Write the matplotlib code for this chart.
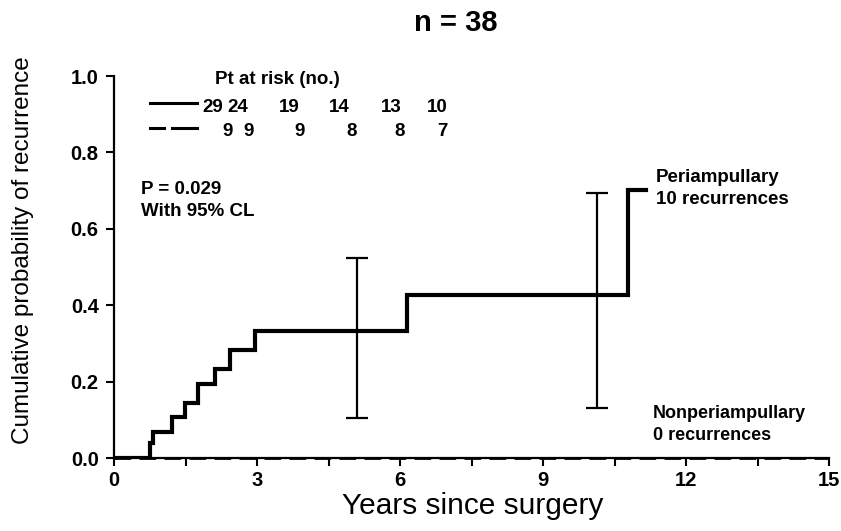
import matplotlib.pyplot as plt
import numpy as np

plt.rcParams['font.family'] = ['Liberation Sans', 'DejaVu Sans']

# Kaplan-Meier style cumulative recurrence, periampullary group
peri_years = [0, 0.755, 0.826, 1.21, 1.49, 1.77, 2.12, 2.43, 2.96, 6.15, 10.79, 11.17]
peri_prob = [0, 0.039, 0.069, 0.108, 0.145, 0.195, 0.234, 0.284, 0.333, 0.428, 0.702, 0.702]

# nonperiampullary group: no recurrences
nonperi_years = [0, 15]
nonperi_prob = [0, 0]

# 95% confidence limits
ci_years = [5.09, 10.13]
ci_mid = [0.333, 0.428]
ci_low = [0.104, 0.130]
ci_high = [0.524, 0.693]

# patients at risk
risk_peri = [29, 24, 19, 14, 13, 10]
risk_nonperi = [9, 9, 9, 8, 8, 7]

fig = plt.figure(figsize=(8.41, 5.31), dpi=100)
ax = fig.add_axes([114 / 841, 1 - 458 / 531, 715 / 841, 382 / 531])

ax.step(peri_years, peri_prob, where='post', color='black', lw=3, solid_joinstyle='miter')
ax.plot(nonperi_years, nonperi_prob, color='black', lw=2, ls=(0, (6, 3)), clip_on=False)

yerr = [np.array(ci_mid) - np.array(ci_low), np.array(ci_high) - np.array(ci_mid)]
ax.errorbar(ci_years, ci_mid, yerr=yerr, fmt='none', ecolor='black', elinewidth=1.6,
            capsize=8, capthick=1.6)

ax.set_xlim(0, 15)
ax.set_ylim(0, 1.0)
ax.set_xticks([0, 3, 6, 9, 12, 15])
ax.set_xticks(np.arange(0, 15.1, 1.5), minor=True)
ax.set_yticks([0, 0.2, 0.4, 0.6, 0.8, 1.0])
ax.set_yticklabels(['0.0', '0.2', '0.4', '0.6', '0.8', '1.0'])
ax.tick_params(which='both', direction='out', length=6, width=1.5, labelsize=14.5)
ax.tick_params(axis='x', pad=3)
ax.tick_params(axis='y', pad=5)
for lab in ax.get_xticklabels() + ax.get_yticklabels():
    lab.set_fontweight('bold')
for s in ['top', 'right']:
    ax.spines[s].set_visible(False)
for s in ['left', 'bottom']:
    ax.spines[s].set_linewidth(1.6)

ax.set_xlabel('Years since surgery', fontsize=21.5)
ax.xaxis.set_label_coords(0.502, -0.088)
ax.set_ylabel('Cumulative probability of recurrence', fontsize=17.5)
ax.yaxis.set_label_coords(-0.112, 0.543)
fig.text(456 / 841, 1 - 23 / 531, 'n = 38', fontsize=21, fontweight='bold',
         ha='center', va='center')


def axpos(px, py):
    return (px - 114) / 715, (458 - py) / 382


# at-risk table
tr = ax.transAxes
x0, y0 = axpos(215, 79)
ax.text(x0, y0, 'Pt at risk (no.)', transform=tr, fontsize=13.5, fontweight='bold', va='center')
xa, ya = axpos(150, 103)
xb, _ = axpos(197, 103)
ax.plot([xa, xb], [ya, ya], color='black', lw=2.2, transform=tr, clip_on=False)
_, yd = axpos(150, 128)
xc, _ = axpos(164, 128)
xd, _ = axpos(172, 128)
ax.plot([xa, xc], [yd, yd], color='black', lw=2.2, transform=tr, clip_on=False)
ax.plot([xd, xb], [yd, yd], color='black', lw=2.2, transform=tr, clip_on=False)

row1_right = [223, 248, 300, 350, 402, 448]
row2_right = [233, 254, 305, 357, 405, 448]
for n, px in zip(risk_peri, row1_right):
    x, y = axpos(px, 107)
    ax.text(x, y, str(n), transform=tr, fontsize=13.5, fontweight='bold', ha='right', va='center')
for n, px in zip(risk_nonperi, row2_right):
    x, y = axpos(px, 131)
    ax.text(x, y, str(n), transform=tr, fontsize=13.5, fontweight='bold', ha='right', va='center')

x, y = axpos(141, 190)
ax.text(x, y, 'P = 0.029', transform=tr, fontsize=13.5, fontweight='bold', va='center')
x, y = axpos(141, 211)
ax.text(x, y, 'With 95% CL', transform=tr, fontsize=13.5, fontweight='bold', va='center')

x, y = axpos(656, 177)
ax.text(x, y, 'Periampullary', transform=tr, fontsize=13.5, fontweight='bold', va='center')
x, y = axpos(656, 199)
ax.text(x, y, '10 recurrences', transform=tr, fontsize=13.5, fontweight='bold', va='center')
x, y = axpos(653, 413)
ax.text(x, y, 'Nonperiampullary', transform=tr, fontsize=13, fontweight='bold', va='center')
x, y = axpos(653, 435)
ax.text(x, y, '0 recurrences', transform=tr, fontsize=13, fontweight='bold', va='center')

fig.savefig('out.png', dpi=100)
